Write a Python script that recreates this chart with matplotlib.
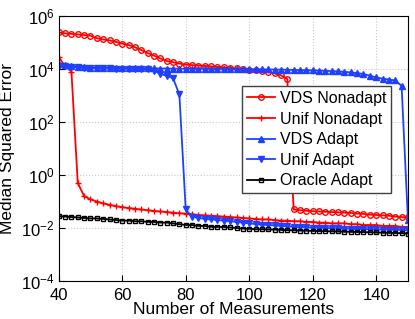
import numpy as np
import matplotlib
matplotlib.use("Agg")
import matplotlib.pyplot as plt

plt.rcParams['font.family'] = ['Liberation Sans', 'DejaVu Sans']

# number of measurements (every 2 from 40 to 150)
measurements = list(range(40, 151, 2))

vds_nonadapt = [2.4e5, 2.2e5, 2.1e5, 2.0e5, 1.9e5, 1.8e5, 1.45e5, 1.3e5, 1.2e5, 1.05e5,
                9.0e4, 8.0e4, 6.6e4, 5.2e4, 4.0e4, 3.2e4, 2.5e4, 2.0e4, 1.8e4, 1.6e4,
                1.45e4, 1.4e4, 1.35e4, 1.3e4, 1.25e4, 1.2e4, 1.15e4, 1.1e4, 1.05e4, 1.0e4,
                9.5e3, 9.0e3, 8.5e3, 7.5e3, 6.8e3, 5.8e3, 4.2e3,
                0.05, 0.047, 0.045, 0.043, 0.042, 0.041, 0.040, 0.039, 0.038, 0.037,
                0.035, 0.034, 0.032, 0.031, 0.030, 0.029, 0.027, 0.026, 0.025]

unif_nonadapt = [2.8e4, 1.3e4, 8e3, 0.5, 0.16, 0.12, 0.10, 0.085, 0.075, 0.067,
                 0.061, 0.057, 0.053, 0.050, 0.047, 0.044, 0.042, 0.040, 0.038, 0.036,
                 0.035, 0.033, 0.031, 0.030, 0.029, 0.028, 0.027, 0.026, 0.025, 0.024,
                 0.023, 0.022, 0.021, 0.021, 0.020, 0.019, 0.019, 0.018, 0.018, 0.017,
                 0.017, 0.016, 0.016, 0.015, 0.015, 0.015, 0.014, 0.014, 0.013, 0.013,
                 0.013, 0.012, 0.012, 0.012, 0.011, 0.011]

vds_adapt = [1.5e4, 1.4e4, 1.3e4, 1.2e4, 1.15e4, 1.1e4, 1.1e4, 1.08e4, 1.08e4, 1.07e4,
             1.07e4, 1.06e4, 1.06e4, 1.05e4, 1.05e4, 1.05e4, 1.04e4, 1.04e4, 1.03e4, 1.03e4,
             1.02e4, 1.02e4, 1.01e4, 1.01e4, 1.0e4, 1.0e4, 1.0e4, 9.9e3, 9.9e3, 9.8e3,
             9.8e3, 9.7e3, 9.6e3, 9.6e3, 9.5e3, 9.4e3, 9.3e3, 9.2e3, 9.1e3, 9.0e3,
             8.9e3, 8.7e3, 8.5e3, 8.3e3, 8.1e3, 7.8e3, 7.4e3, 7.0e3, 6.4e3, 5.6e3,
             4.8e3, 4.3e3, 4.0e3, 3.7e3, 2.3e3, 0.02]

unif_adapt = [1.3e4, 1.25e4, 1.2e4, 1.15e4, 1.1e4, 1.07e4, 1.06e4, 1.05e4, 1.05e4, 1.04e4,
              1.03e4, 1.02e4, 1.01e4, 1.0e4, 9.6e3, 8.7e3, 6.5e3, 5.5e3, 4.5e3, 1.1e3,
              0.05, 0.027, 0.024, 0.022, 0.021, 0.020, 0.019, 0.018, 0.017, 0.016,
              0.015, 0.014, 0.0135, 0.013, 0.0125, 0.012, 0.0115, 0.011, 0.0108, 0.0106,
              0.0104, 0.0102, 0.010, 0.0098, 0.0096, 0.0095, 0.0093, 0.0092, 0.0091, 0.009,
              0.0088, 0.0087, 0.0086, 0.0085, 0.0084, 0.0082]

oracle_adapt = [0.028, 0.027, 0.026, 0.025, 0.024, 0.023, 0.023, 0.022, 0.021, 0.020,
                0.019, 0.019, 0.018, 0.018, 0.017, 0.017, 0.016, 0.016, 0.015, 0.014,
                0.013, 0.013, 0.012, 0.012, 0.011, 0.011, 0.011, 0.0105, 0.010, 0.0095,
                0.0093, 0.009, 0.009, 0.0088, 0.0087, 0.0085, 0.0083, 0.0082, 0.008, 0.0079,
                0.0078, 0.0077, 0.0076, 0.0075, 0.0074, 0.0073, 0.0072, 0.0071, 0.007, 0.0069,
                0.0068, 0.0067, 0.0066, 0.0065, 0.0064, 0.0062]

red = "#ff0000"
blue = "#2040ff"

fig = plt.figure(figsize=(4.15, 3.19), dpi=100)
ax = fig.add_axes([0.1415, 0.119, 0.8415, 0.831])

ax.semilogy(measurements, vds_nonadapt, '-o', color=red, lw=1.3, ms=4,
            mfc='none', mew=1.0, label='VDS Nonadapt')
ax.semilogy(measurements, unif_nonadapt, '-+', color=red, lw=1.3, ms=5,
            mew=1.0, label='Unif Nonadapt')
ax.semilogy(measurements, vds_adapt, '-^', color=blue, lw=1.3, ms=4,
            label='VDS Adapt')
ax.semilogy(measurements, unif_adapt, '-v', color=blue, lw=1.3, ms=4,
            label='Unif Adapt')
ax.semilogy(measurements, oracle_adapt, '-s', color='black', lw=1.3, ms=3.5,
            mfc='none', mew=1.0, label='Oracle Adapt')

ax.set_xlim(40, 150)
ax.set_ylim(1e-4, 1e6)
ax.set_xticks([40, 60, 80, 100, 120, 140])
ax.set_yticks([1e-4, 1e-2, 1e0, 1e2, 1e4, 1e6])
ax.minorticks_off()
ax.tick_params(direction='in', labelsize=12, length=4)
ax.tick_params(axis='x', pad=5)
ax.tick_params(axis='y', pad=3)
ax.grid(True, linestyle=':', color='#c8c8c8', lw=0.8)

ax.set_xlabel('Number of Measurements', fontsize=12.5, labelpad=-1)
ax.set_ylabel('Median Squared Error', fontsize=12.5, labelpad=4)

ax.legend(loc='upper left', bbox_to_anchor=(0.524, 0.735), fontsize=11.5,
          fancybox=False, edgecolor='#404040', framealpha=1, handlelength=1.8,
          handletextpad=0.3, borderpad=0.3, labelspacing=0.35, borderaxespad=0)

fig.savefig('out.png', dpi=100)
